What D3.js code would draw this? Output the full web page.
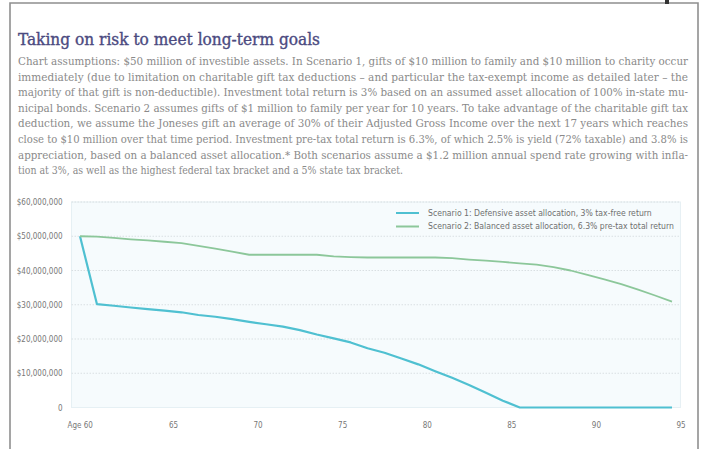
<!DOCTYPE html>
<html>
<head>
<meta charset="utf-8">
<script src="https://cdn.jsdelivr.net/npm/d3@7"></script>
<style>
    body { margin: 0; background: #fff; }
    svg { display: block; }
</style>
</head>
<body>
<div id="chart"></div>
<script>
// values, in millions of dollars, one per age
const ages = d3.range(60, 96);
const scenario1 = [
    50, 30.2, 29.7, 29.2, 28.7, 28.3, 27.8, 27.0, 26.5, 25.8,
    25.0, 24.3, 23.6, 22.6, 21.3, 20.2, 19.0, 17.3, 16.0, 14.3,
    12.6, 10.6, 8.7, 6.6, 4.3, 2.0, 0, 0, 0, 0,
    0, 0, 0, 0, 0, 0
];
const scenario2 = [
    50, 49.9, 49.5, 49.1, 48.8, 48.4, 48.0, 47.2, 46.4, 45.5,
    44.6, 44.6, 44.6, 44.6, 44.6, 44.1, 43.9, 43.8, 43.8, 43.8,
    43.8, 43.8, 43.6, 43.2, 42.9, 42.5, 42.1, 41.7, 41.0, 40.0,
    38.7, 37.4, 36.0, 34.4, 32.7, 30.9
];
const seriesNames = [
    "Scenario 1: Defensive asset allocation, 3% tax-free return",
    "Scenario 2: Balanced asset allocation, 6.3% pre-tax total return"
];
const seriesColors = ["#4fc0d1", "#8cc79a"];
const xTicks = [60, 65, 70, 75, 80, 85, 90, 95];
const yTicks = [0, 10, 20, 30, 40, 50, 60];

const title = "Taking on risk to meet long-term goals";
const bodyLines = [
    "Chart assumptions: $50 million of investible assets. In Scenario 1, gifts of $10 million to family and $10 million to charity occur",
    "immediately (due to limitation on charitable gift tax deductions \u2013 and particular the tax-exempt income as detailed later \u2013 the",
    "majority of that gift is non-deductible). Investment total return is 3% based on an assumed asset allocation of 100% in-state mu-",
    "nicipal bonds. Scenario 2 assumes gifts of $1 million to family per year for 10 years. To take advantage of the charitable gift tax",
    "deduction, we assume the Joneses gift an average of 30% of their Adjusted Gross Income over the next 17 years which reaches",
    "close to $10 million over that time period. Investment pre-tax total return is 6.3%, of which 2.5% is yield (72% taxable) and 3.8% is",
    "appreciation, based on a balanced asset allocation.* Both scenarios assume a $1.2 million annual spend rate growing with infla-",
    "tion at 3%, as well as the highest federal tax bracket and a 5% state tax bracket."
];

const width = 709;
const height = 449;
const sansFont = "'Liberation Sans Narrow', 'DejaVu Sans Condensed', 'Open Sans', sans-serif";
const serifFont = "'DejaVu Serif Condensed', 'DejaVu Serif', 'Liberation Serif', serif";

const svg = d3
    .select("#chart")
    .append("svg")
    .attr("width", width)
    .attr("height", height);

svg.append("rect").attr("width", width).attr("height", height).attr("fill", "#fff");

// page frame
svg.append("path")
    .attr("d", `M10,${height} V3 H698 V${height}`)
    .attr("fill", "none")
    .attr("stroke", "#8f8f8f")
    .attr("stroke-width", 1.6);
svg.append("rect")
    .attr("x", 665).attr("y", 0).attr("width", 4).attr("height", 4)
    .attr("fill", "#333");

// heading and assumptions text
svg.append("text")
    .attr("x", 18)
    .attr("y", 45)
    .attr("textLength", 302)
    .attr("lengthAdjust", "spacingAndGlyphs")
    .style("font-family", serifFont)
    .style("font-size", "17px")
    .style("fill", "#4b4a7f")
    .style("stroke", "#4b4a7f")
    .style("stroke-width", 0.35)
    .text(title);

svg.append("g")
    .selectAll("text")
    .data(bodyLines)
    .join("text")
    .attr("x", 18)
    .attr("y", (d, i) => 65 + i * 15.6)
    .attr("textLength", (d, i) => (i < bodyLines.length - 1 ? 670 : 385))
    .attr("lengthAdjust", "spacingAndGlyphs")
    .style("font-family", serifFont)
    .style("font-size", "10.2px")
    .style("fill", "#8a8a8a")
    .text((d) => d);

// scales
const x = d3.scaleLinear().domain([60, 95]).range([80, 672]);
const y = d3.scaleLinear().domain([0, 60]).range([407.5, 202]);

// plot background
svg.append("rect")
    .attr("x", x(59.5))
    .attr("y", y(60))
    .attr("width", x(95.5) - x(59.5))
    .attr("height", y(0) - y(60))
    .attr("fill", "#f6fbfd")
    .attr("stroke", "#e6f0f4")
    .attr("stroke-width", 1);

// dotted gridlines
svg.append("g")
    .selectAll("line")
    .data(yTicks.filter((d) => d > 0))
    .join("line")
    .attr("x1", x(59.5))
    .attr("x2", x(95.5))
    .attr("y1", (d) => y(d))
    .attr("y2", (d) => y(d))
    .attr("stroke", "#d9dfe2")
    .attr("stroke-width", 1)
    .attr("stroke-dasharray", "1.5,1.5");

// axes
const yAxis = svg.append("g")
    .attr("transform", `translate(${x(59.5)},0)`)
    .call(
        d3.axisLeft(y)
            .tickValues(yTicks)
            .tickSize(0)
            .tickPadding(9)
            .tickFormat((d) => (d === 0 ? "0" : d3.format("$,")(d * 1e6)))
    );

const xAxis = svg.append("g")
    .attr("transform", `translate(0,${y(0) + 12})`)
    .call(
        d3.axisBottom(x)
            .tickValues(xTicks.map((d) => d + 0.5))
            .tickSize(0)
            .tickFormat((d, i) => (i === 0 ? "Age " + (d - 0.5) : d - 0.5))
    );

[yAxis, xAxis].forEach((axis) => {
    axis.select(".domain").remove();
    axis.selectAll("text")
        .style("font-family", sansFont)
        .style("font-size", "8px")
        .style("fill", "#777");
});
xAxis.selectAll(".tick text").filter((d, i) => i === 0).attr("text-anchor", "end").attr("dx", "4");

// lines
const line = d3.line()
    .x((d) => x(d[0]))
    .y((d) => y(d[1]));

const seriesData = [scenario1, scenario2].map((values) => values.map((v, i) => [ages[i], v]));

svg.append("g")
    .selectAll("path")
    .data(seriesData)
    .join("path")
    .attr("fill", "none")
    .attr("stroke", (d, i) => seriesColors[i])
    .attr("stroke-width", (d, i) => (i === 0 ? 2.2 : 1.8))
    .attr("stroke-linejoin", "round")
    .attr("d", line);

// legend
const legend = svg.append("g")
    .selectAll("g")
    .data(seriesNames)
    .join("g")
    .attr("transform", (d, i) => `translate(396,${213 + i * 13.5})`);

legend.append("line")
    .attr("x1", 0)
    .attr("x2", 23)
    .attr("stroke", (d, i) => seriesColors[i])
    .attr("stroke-width", 2);

legend.append("text")
    .attr("x", 32)
    .attr("dy", "0.33em")
    .style("font-family", sansFont)
    .style("font-size", "8.6px")
    .style("fill", "#6f6f6f")
    .text((d) => d);
</script>
</body>
</html>
